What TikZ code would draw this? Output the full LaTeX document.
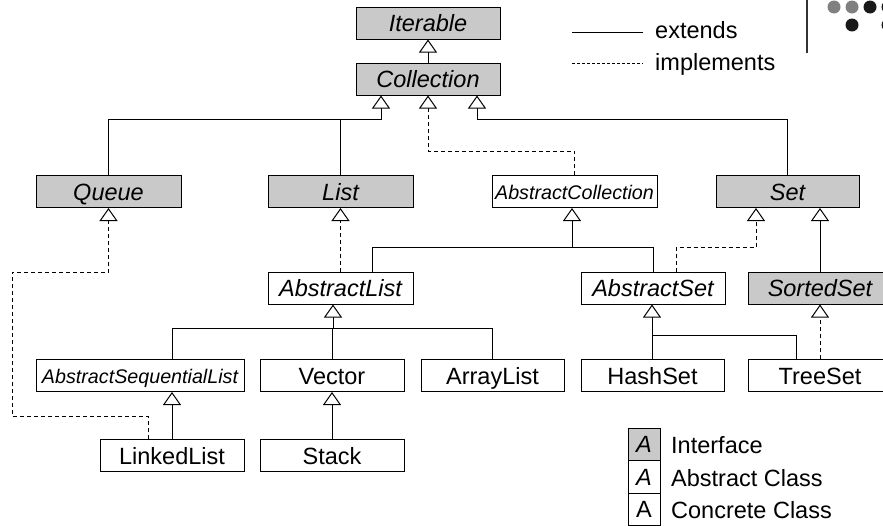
\documentclass[tikz,border=0pt]{standalone}
\usepackage{fontspec}
\setmainfont{Liberation Sans}
\usetikzlibrary{arrows.meta}
\newcommand\boxfont{\fontsize{23.5}{28}\selectfont}
\newcommand\smallboxfont{\fontsize{19.7}{24}\selectfont}
\tikzset{
  box/.style={draw, line width=1pt, minimum height=32pt, inner sep=0pt, text height=17pt, text depth=0pt, font=\boxfont},
  iface/.style={box, fill=black!21, font=\boxfont\itshape},
  abst/.style={box, fill=white, font=\boxfont\itshape},
  conc/.style={box, fill=white},
  inh/.style={line width=1pt, -{Triangle[fill=white, length=13pt, width=18pt]}},
  ext/.style={inh},
  impl/.style={inh, dash pattern=on 4pt off 3pt},
  legtext/.style={font=\boxfont, inner sep=0pt, anchor=base west},
}
\begin{document}
\begin{tikzpicture}[x=1pt, y=-1pt]
\clip (0,0) rectangle (883,525);
\fill[white] (0,0) rectangle (883,525);
% top-right decoration
\draw[line width=1.5pt, black!80] (807,0) -- (807,53);
\fill[black!50] (834,7) circle (6.5);
\fill[black!50] (852,7) circle (6.5);
\fill[black!90] (870,7) circle (6.5);
\fill[black!90] (888,7) circle (6.5);
\fill[black!90] (852,25) circle (6.5);
\fill[black!90] (888,25) circle (6.5);
% legend of lines
\coordinate (le1) at (572,32); \coordinate (le2) at (643,32);
\coordinate (li1) at (572,63); \coordinate (li2) at (643,63);
\draw[line width=1pt] (le1) -- (le2);
\draw[line width=1pt, dash pattern=on 3pt off 2pt] (li1) -- (li2);
\node[legtext] (lext) at (655,38) {extends};
\node[legtext] (limp) at (655,70.5) {implements};
% classes
\node[iface, minimum width=144pt] (Iterable) at (428,23) {Iterable};
\node[iface, minimum width=144pt] (Collection) at (428,79) {Collection};
\node[iface, minimum width=145pt] (Queue) at (108.5,191.5) {Queue};
\node[iface, minimum width=145pt] (List) at (340.5,191.5) {List};
\node[abst, minimum width=165pt, font=\smallboxfont\itshape, text height=15pt] (AColl) at (574.5,191.5) {AbstractCollection};
\node[iface, minimum width=143pt] (Set) at (787.5,191.5) {Set};
\node[abst, minimum width=145pt] (AList) at (340.5,288) {AbstractList};
\node[abst, minimum width=144pt] (ASet) at (653,288) {AbstractSet};
\node[iface, minimum width=144pt] (SSet) at (820,288) {SortedSet};
\node[abst, minimum width=208pt, font=\smallboxfont\itshape, text height=15pt] (ASL) at (140,375.5) {AbstractSequentialList};
\node[conc, minimum width=144pt] (Vector) at (332,375.5) {Vector};
\node[conc, minimum width=143pt] (AList2) at (492.5,375.5) {ArrayList};
\node[conc, minimum width=143pt] (HSet) at (652.5,375.5) {HashSet};
\node[conc, minimum width=144pt] (TSet) at (820,375.5) {TreeSet};
\node[conc, minimum width=144pt] (LList) at (172,455.5) {LinkedList};
\node[conc, minimum width=144pt] (Stack) at (332,455.5) {Stack};
% junction coordinates
\coordinate (jq) at (381,119);
\coordinate (jl) at (340.5,119);
\coordinate (jac) at (428,151);
\coordinate (js) at (477,119);
\coordinate (jal) at (572,247);
\coordinate (jas) at (756,247);
\coordinate (jsub) at (333,328);
\coordinate (jhs) at (652,335);
\coordinate (jll1) at (12,416);
\coordinate (jll2) at (12,272);
% connectors
\draw[ext] (Collection.north) -- (Iterable.south);
\draw[ext] (Queue.north) |- (jq) -- ([xshift=-47pt]Collection.south);
\draw[line width=1pt] (List.north) -- (jl);
\draw[impl] (AColl.north) |- (jac) -- (Collection.south);
\draw[ext] (Set.north) |- (js) -- ([xshift=49pt]Collection.south);
\draw[impl] (AList.north) -- (List.south);
\draw[ext] ([xshift=31.5pt]AList.north) |- (jal) -- ([xshift=-2.5pt]AColl.south);
\draw[line width=1pt] (ASet.north) |- (jal);
\draw[impl] ([xshift=23pt]ASet.north) |- (jas) -- ([xshift=-31.5pt]Set.south);
\draw[ext] (SSet.north) -- ([xshift=32.5pt]Set.south);
\draw[ext] ([xshift=32pt]ASL.north) |- (jsub) -- ([xshift=-7.5pt]AList.south);
\draw[line width=1pt] (AList2.north) |- (jsub);
\draw[line width=1pt] (Vector.north) -- (Vector.north |- jsub);
\draw[ext] (LList.north) -- ([xshift=32pt]ASL.south);
\draw[impl] ([xshift=-24pt]LList.north) |- (jll1) -- (jll2) -| (Queue.south);
\draw[ext] (Stack.north) -- (Vector.south);
\draw[ext] ([xshift=-0.5pt]HSet.north) -- ([xshift=-1pt]ASet.south);
\draw[line width=1pt] ([xshift=-24pt]TSet.north) |- (jhs);
\draw[impl] (TSet.north) -- (SSet.south);
% legend of boxes
\node[iface, minimum width=32pt, minimum height=32.5pt] (lg1) at (644,444.25) {A};
\node[abst, minimum width=32pt, minimum height=32.5pt] (lg2) at (644,476.75) {A};
\node[conc, minimum width=32pt, minimum height=32.5pt] (lg3) at (644,509.25) {A};
\node[legtext] (lt1) at (671,453) {Interface};
\node[legtext] (lt2) at (671,486) {Abstract Class};
\node[legtext] (lt3) at (671,518) {Concrete Class};
\end{tikzpicture}
\end{document}
